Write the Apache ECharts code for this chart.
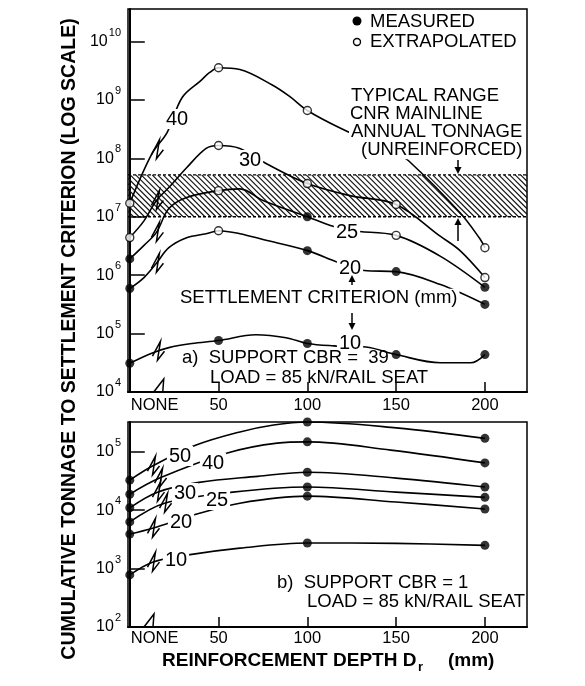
<!DOCTYPE html>
<html><head><meta charset="utf-8">
<script src="https://cdn.jsdelivr.net/npm/echarts@6/dist/echarts.min.js"></script>
<style>html,body{margin:0;padding:0;background:#fff}#c{width:585px;height:686px}</style>
</head><body><div id="c"></div>
<script>
const FONT = '"Liberation Sans", Arial, Helvetica, sans-serif';

// ---------- x axis ----------
const xLabelValues = [14, 50, 100, 150, 200];
const xLabelTexts = ['NONE', '50', '100', '150', '200'];
const xTickValues = [50, 100, 150, 200];
const X_MIN = -1, X_MAX = 223.7;

// ---------- panel a) support CBR = 39 ----------
const depths = [0, 50, 100, 150, 200];
const a40 = [1.7e7, 3.55e9, 6.6e8, null, 2.95e6];
const a30 = [4.4e6, 1.66e8, 3.7e7, 1.62e7, 9.1e5];
const a25 = [1.9e6, 2.8e7, 1.0e7, 4.8e6, 6.2e5];
const a20 = [5.9e5, 5.75e6, 2.63e6, 1.15e6, 3.16e5];
const a10 = [3.1e4, 7.6e4, 6.76e4, 4.37e4, 4.37e4];
// M = measured, E = extrapolated
const a40Kind = ['E', 'E', 'E', '', 'E'];
const a30Kind = ['E', 'E', 'E', 'E', 'E'];
const a25Kind = ['M', 'E', 'M', 'E', 'M'];
const a20Kind = ['M', 'E', 'M', 'M', 'M'];
const a10Kind = ['M', 'M', 'M', 'M', 'M'];

// curves as drawn
const a40Curve = [[0,1.7e7],[12.5,1.2e8],[21,2.75e8],[29.5,1.1e9],[40,2.14e9],[45,2.95e9],[50,3.55e9],[62,3.31e9],[80,1.82e9],[90,1.15e9],[100,6.6e8],[119,3.24e8],[150,1.2e8],[157,9.1e7],[186,1.17e7],[197,4.27e6],[200,2.95e6]];
const a30Curve = [[0,4.4e6],[8,8.5e6],[15,1.9e7],[22,3.16e7],[32,6.9e7],[43,1.48e8],[50,1.66e8],[62,1.48e8],[77,8.1e7],[100,3.7e7],[124,2.3e7],[150,1.62e7],[175,4.6e6],[186,2.63e6],[200,9.1e5]];
const a25Curve = [[0,1.9e6],[8,3.24e6],[15,5.4e6],[22,1.38e7],[32,2.14e7],[50,2.8e7],[62,3.0e7],[75,1.9e7],[100,1.0e7],[113,7.1e6],[125,5.75e6],[150,4.8e6],[175,2.1e6],[200,6.2e5]];
const a20Curve = [[0,5.9e5],[8,9.1e5],[15,1.6e6],[22,2.95e6],[32,4.37e6],[43,5.13e6],[50,5.75e6],[62,5.13e6],[75,4.07e6],[100,2.63e6],[117,1.66e6],[132,1.2e6],[150,1.15e6],[175,6.9e5],[200,3.16e5]];
const a10Curve = [[0,3.1e4],[12,4.57e4],[22,5.75e4],[35,6.76e4],[50,7.6e4],[71,9.55e4],[88,8.5e4],[100,6.76e4],[115,6.17e4],[133,5.9e4],[150,4.37e4],[175,3.16e4],[192,3.16e4],[200,4.37e4]];
const aBreaks = [[15,1.4e8],[15,1.9e7],[15,5.4e6],[15,1.6e6],[15.6,5.0e4]];
const aAxisBreak = [[18, 1e4]];
// typical range CNR mainline annual tonnage
const bandTonnage = [1.0e7, 5.2e7];

// ---------- panel b) support CBR = 1 ----------
const bDepths = [0, 100, 200];
const b50 = [3.27e4, 3.24e5, 1.70e5];
const b40 = [1.88e4, 1.48e5, 6.46e4];
const b30 = [1.10e4, 4.47e4, 2.5e4];
const b25 = [6.3e3, 2.5e4, 1.66e4];
const b20 = [3.9e3, 1.74e4, 1.05e4];
const b10 = [7.8e2, 2.75e3, 2.5e3];
const b50Curve = [[0,3.27e4],[12.8,5.7e4],[37,1.29e5],[62,2.19e5],[81,2.88e5],[100,3.24e5],[150,2.57e5],[200,1.70e5]];
const b40Curve = [[0,1.88e4],[16.8,3.55e4],[55,9.55e4],[83,1.41e5],[100,1.48e5],[147,1.07e5],[200,6.46e4]];
const b30Curve = [[0,1.1e4],[15.6,2.04e4],[39,3.0e4],[72,3.8e4],[100,4.47e4],[150,3.55e4],[200,2.5e4]];
const b25Curve = [[0,6.3e3],[19.6,1.32e4],[58,2.04e4],[100,2.5e4],[150,2.04e4],[200,1.66e4]];
const b20Curve = [[0,3.9e3],[12.8,4.9e3],[35,8.1e3],[62,1.32e4],[100,1.74e4],[150,1.38e4],[200,1.05e4]];
const b10Curve = [[0,7.8e2],[12.8,1.29e3],[32,1.7e3],[62,2.24e3],[100,2.75e3],[150,2.7e3],[200,2.5e3]];
const bBreaks = [[12.8,5.7e4],[16.8,3.55e4],[15.6,2.04e4],[19.6,1.32e4],[12.8,4.9e3],[12.8,1.29e3]];
const bAxisBreak = [[12.5, 1e2]];

// ---------- helpers ----------
function collect(xs, valueArrs, kindArrs, kind) {
  const out = [];
  valueArrs.forEach((vals, i) => vals.forEach((v, j) => {
    if (v != null && (kindArrs ? kindArrs[i][j] === kind : true)) out.push([xs[j], v]);
  }));
  return out;
}
const curveGlyph = [[-5,5],[3,-10],[0,9],[7,0]];
const axisGlyph = [[-8,0],[2,-13],[1,0]];
function glyphSeries(gi, data, glyph) {
  return {
    type: 'custom', xAxisIndex: gi, yAxisIndex: gi, z: 4, silent: true, clip: false,
    data: data,
    renderItem: (p, api) => {
      const c = api.coord([api.value(0), api.value(1)]);
      return { type: 'polyline', shape: { points: glyph.map(g => [c[0] + g[0], c[1] + g[1]]) },
        style: { stroke: '#000', lineWidth: 1.5, fill: null } };
    }
  };
}
function curveSeries(gi, data) {
  return { type: 'line', xAxisIndex: gi, yAxisIndex: gi, data: data, smooth: 0.35,
    showSymbol: false, silent: true, z: 2, lineStyle: { color: '#000', width: 1.6 } };
}
function markerSeries(gi, data, filled) {
  return { type: 'scatter', xAxisIndex: gi, yAxisIndex: gi, data: data, z: 5, silent: true,
    symbol: 'circle', symbolSize: filled ? 9 : 8,
    itemStyle: filled ? { color: '#000' } : { color: '#fff', borderColor: '#000', borderWidth: 1.4 } };
}
function yAxisDef(gi, min, max) {
  return {
    type: 'log', logBase: 10, gridIndex: gi, min: min, max: max,
    axisLine: { show: true, lineStyle: { color: '#000', width: 2 } },
    axisTick: { show: true, inside: true, length: 15, lineStyle: { color: '#000', width: 1.5 } },
    splitLine: { show: false },
    axisLabel: {
      margin: 7, showMaxLabel: false, color: '#000',
      formatter: v => '{b|10}{e|' + Math.round(Math.log10(v)) + '}',
      rich: {
        b: { fontSize: 16, fontFamily: FONT, color: '#000' },
        e: { fontSize: 11, fontFamily: FONT, color: '#000', padding: [0, 0, 18, 1] }
      }
    }
  };
}
function xAxisDef(gi, margin) {
  return {
    type: 'value', gridIndex: gi, min: X_MIN, max: X_MAX,
    axisLine: { show: true, lineStyle: { color: '#000', width: 2 } },
    axisTick: { show: true, inside: true, length: 10, customValues: xTickValues, lineStyle: { color: '#000', width: 1.5 } },
    splitLine: { show: false },
    axisLabel: { customValues: xLabelValues, margin: margin, color: '#000', fontSize: 16.5, fontFamily: FONT,
      formatter: v => xLabelTexts[xLabelValues.indexOf(v)] }
  };
}
function T(x, y, text, size, opt) {
  opt = opt || {};
  const st = { x: x, y: y, text: text, fill: '#000', font: (opt.bold ? 'bold ' : '') + size + 'px ' + FONT,
    textAlign: opt.align || 'left', textVerticalAlign: 'middle' };
  if (opt.bg) { st.backgroundColor = '#fff'; st.padding = [0, 2]; st.lineHeight = opt.lh || size; }
  const el = { type: 'text', z: 100, style: st };
  if (opt.rot) { el.x = x; el.y = y; st.x = 0; st.y = 0; el.rotation = opt.rot; }
  return el;
}
function arrow(x, y1, y2) {
  const d = y2 > y1 ? 1 : -1;
  return [
    { type: 'line', z: 100, shape: { x1: x, y1: y1, x2: x, y2: y2 - d * 5 }, style: { stroke: '#000', lineWidth: 1.5 } },
    { type: 'polygon', z: 100, shape: { points: [[x - 3.5, y2 - d * 7], [x + 3.5, y2 - d * 7], [x, y2]] }, style: { fill: '#000' } }
  ];
}

const aVals = [a40, a30, a25, a20, a10];
const aKinds = [a40Kind, a30Kind, a25Kind, a20Kind, a10Kind];
const bVals = [b50, b40, b30, b25, b20, b10];

const hatchSeries = {
  type: 'custom', xAxisIndex: 0, yAxisIndex: 0, z: 1, silent: true,
  data: [[X_MIN, bandTonnage[0], X_MAX, bandTonnage[1]]],
  renderItem: (p, api) => {
    const p0 = api.coord([api.value(0), api.value(3)]);
    const p1 = api.coord([api.value(2), api.value(1)]);
    const x0 = p0[0], y0 = p0[1], x1 = p1[0], y1 = p1[1], h = y1 - y0;
    const kids = [];
    for (let c = x0 - h; c < x1; c += 5.5) {
      const tS = Math.max(0, x0 - c), tE = Math.min(h, x1 - c);
      if (tE > tS) kids.push({ type: 'line', shape: { x1: c + tS, y1: y0 + tS, x2: c + tE, y2: y0 + tE },
        style: { stroke: '#111', lineWidth: 1.1 } });
    }
    [y0, y1].forEach(yy => kids.push({ type: 'line', shape: { x1: x0, y1: yy, x2: x1, y2: yy },
      style: { stroke: '#000', lineWidth: 1.3, lineDash: [3, 2] } }));
    return { type: 'group', children: kids };
  }
};

const TS = 18.5;
const graphics = [
  // legend
  { type: 'circle', z: 100, shape: { cx: 357, cy: 21, r: 4.5 }, style: { fill: '#000' } },
  { type: 'circle', z: 100, shape: { cx: 357, cy: 42, r: 3.5 }, style: { fill: '#fff', stroke: '#000', lineWidth: 1.4 } },
  T(370, 22, 'MEASURED', TS),
  T(370, 42, 'EXTRAPOLATED', TS),
  // band note
  T(349, 96, 'TYPICAL RANGE', TS, { bg: true }),
  T(348, 114, 'CNR MAINLINE', TS, { bg: true }),
  T(349, 132, 'ANNUAL TONNAGE', TS, { bg: true }),
  T(359, 150, '(UNREINFORCED)', TS, { bg: true }),
  // curve labels panel a
  T(177, 119, '40', 20, { bg: true, align: 'center' }),
  T(250, 160, '30', 20, { bg: true, align: 'center' }),
  T(347, 232, '25', 20, { bg: true, align: 'center' }),
  T(350, 268, '20', 20, { bg: true, align: 'center' }),
  T(350, 343, '10', 20, { bg: true, align: 'center' }),
  T(178, 298, 'SETTLEMENT CRITERION (mm)', TS, { bg: true }),
  T(182, 358, 'a)  SUPPORT CBR =  39', TS),
  T(210, 378, 'LOAD = 85 kN/RAIL SEAT', TS),
  // curve labels panel b
  T(180, 456, '50', 20, { bg: true, align: 'center' }),
  T(213, 463, '40', 20, { bg: true, align: 'center' }),
  T(185, 493, '30', 20, { bg: true, align: 'center' }),
  T(217, 500, '25', 20, { bg: true, align: 'center' }),
  T(181, 522, '20', 20, { bg: true, align: 'center' }),
  T(176, 560, '10', 20, { bg: true, align: 'center' }),
  T(277, 583, 'b)  SUPPORT CBR = 1', TS),
  T(307, 602, 'LOAD = 85 kN/RAIL SEAT', TS),
  // axis titles
  T(162, 661, 'REINFORCEMENT DEPTH D', 19, { bold: true }),
  T(418, 667, 'r', 13, { bold: true }),
  T(448, 661, '(mm)', 19, { bold: true }),
  T(70, 339, 'CUMULATIVE TONNAGE TO SETTLEMENT CRITERION (LOG SCALE)', 19.5, { bold: true, align: 'center', rot: Math.PI / 2 })
].concat(arrow(458, 160, 174), arrow(458, 241, 218), arrow(352, 285, 275), arrow(352, 313, 330));

const option = {
  backgroundColor: '#fff',
  animation: false,
  grid: [
    { left: 128, right: 58, top: 9, height: 383, show: true, borderColor: '#000', borderWidth: 1.5, containLabel: false },
    { left: 128, right: 58, top: 422, height: 205, show: true, borderColor: '#000', borderWidth: 1.5, containLabel: false }
  ],
  xAxis: [xAxisDef(0, 5), xAxisDef(1, 3)],
  yAxis: [yAxisDef(0, 1e4, 3.6e10), yAxisDef(1, 1e2, 3.24e5)],
  series: [
    hatchSeries,
    curveSeries(0, a40Curve), curveSeries(0, a30Curve), curveSeries(0, a25Curve),
    curveSeries(0, a20Curve), curveSeries(0, a10Curve),
    curveSeries(1, b50Curve), curveSeries(1, b40Curve), curveSeries(1, b30Curve),
    curveSeries(1, b25Curve), curveSeries(1, b20Curve), curveSeries(1, b10Curve),
    glyphSeries(0, aBreaks, curveGlyph), glyphSeries(1, bBreaks, curveGlyph),
    glyphSeries(0, aAxisBreak, axisGlyph), glyphSeries(1, bAxisBreak, axisGlyph),
    markerSeries(0, collect(depths, aVals, aKinds, 'M'), true),
    markerSeries(0, collect(depths, aVals, aKinds, 'E'), false),
    markerSeries(1, collect(bDepths, bVals, null, null), true)
  ],
  graphic: graphics
};
const chart = echarts.init(document.getElementById('c'), null, { renderer: 'canvas' });
chart.setOption(option);
</script>
</body></html>
